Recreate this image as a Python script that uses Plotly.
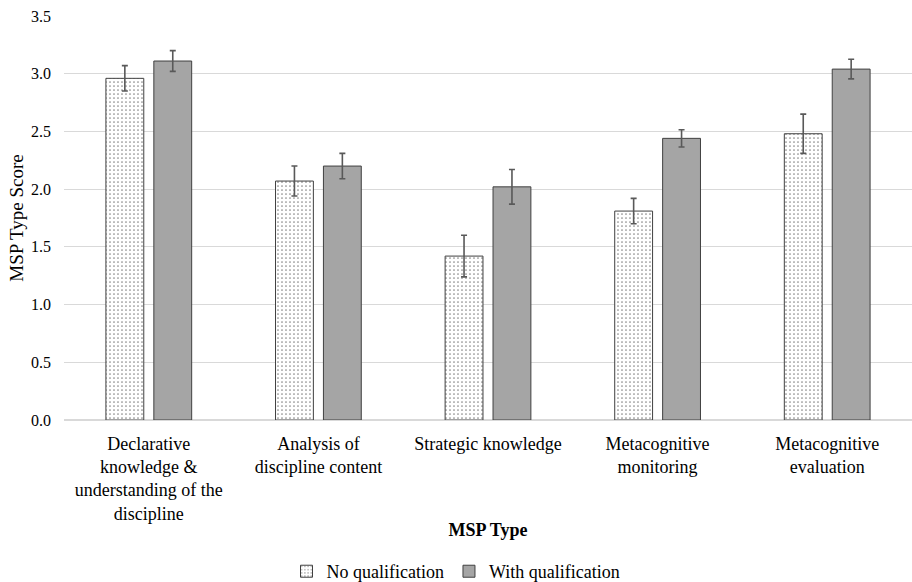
import plotly.graph_objects as go

categories = [
    "Declarative<br>knowledge &<br>understanding of the<br>discipline",
    "Analysis of<br>discipline content",
    "Strategic knowledge",
    "Metacognitive<br>monitoring",
    "Metacognitive<br>evaluation",
]
no_qual = [2.96, 2.07, 1.42, 1.81, 2.48]
no_qual_err = [0.11, 0.13, 0.18, 0.11, 0.17]
with_qual = [3.11, 2.20, 2.02, 2.44, 3.04]
with_qual_err = [0.09, 0.11, 0.15, 0.075, 0.085]
y_ticks = [0.0, 0.5, 1.0, 1.5, 2.0, 2.5, 3.0, 3.5]

FONT = "Liberation Serif, Times New Roman, serif"
err_style = dict(type="data", color="#595959", thickness=1.6, width=3)

fig = go.Figure()
fig.add_trace(go.Bar(
    name="No qualification",
    x=categories,
    y=no_qual,
    error_y=dict(array=no_qual_err, **err_style),
    marker=dict(
        color="white",
        line=dict(color="#404040", width=1),
        pattern=dict(shape=".", fgcolor="#8a8a8a", bgcolor="white",
                     size=4, solidity=0.15, fillmode="replace"),
    ),
))
fig.add_trace(go.Bar(
    name="With qualification",
    x=categories,
    y=with_qual,
    error_y=dict(array=with_qual_err, **err_style),
    marker=dict(color="#a5a5a5", line=dict(color="#404040", width=1)),
))

fig.update_layout(
    width=912,
    height=582,
    margin=dict(l=64, r=0, t=16, b=162),
    paper_bgcolor="white",
    plot_bgcolor="white",
    font=dict(family=FONT, size=18, color="#000000"),
    barmode="group",
    bargap=0.435,
    bargroupgap=0.21,
    showlegend=True,
    legend=dict(
        orientation="h",
        xref="container", x=0.5, xanchor="center",
        yref="container", y=0.018, yanchor="middle",
        font=dict(family=FONT, size=18),
        itemwidth=30,
    ),
    xaxis=dict(
        title=dict(text="<b>MSP Type</b>", font=dict(family=FONT, size=18), standoff=0),
        tickfont=dict(family=FONT, size=18),
        ticklabelstandoff=7,
        showline=True, linecolor="#d9d9d9", linewidth=1,
        ticks="", automargin=False,
    ),
    yaxis=dict(
        title=dict(text="MSP Type Score", font=dict(family=FONT, size=19), standoff=2),
        range=[0, 3.5],
        tickvals=y_ticks,
        ticktext=[f"{v:.1f}" for v in y_ticks],
        tickfont=dict(family=FONT, size=16),
        ticklabelstandoff=12,
        showgrid=True, gridcolor="#d9d9d9", gridwidth=1,
        zeroline=True, zerolinecolor="#d9d9d9",
        ticks="", ticklen=0, automargin=False,
    ),
)

fig.write_html("out.html")
